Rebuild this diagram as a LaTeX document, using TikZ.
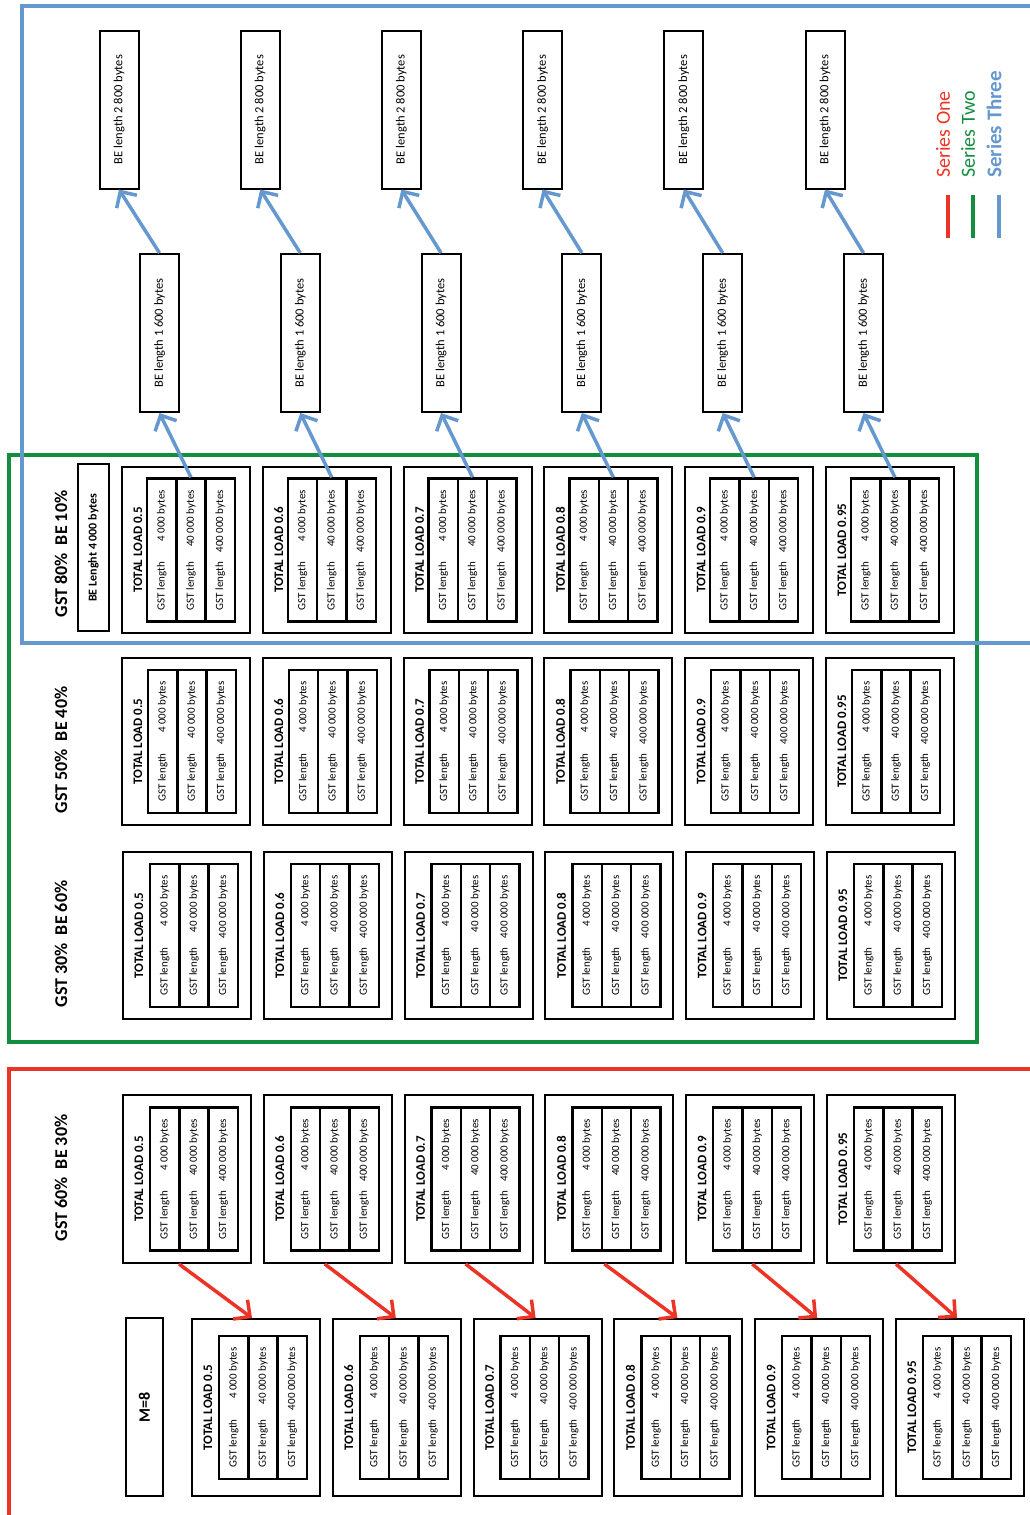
\documentclass[tikz,border=0pt]{standalone}
\usepackage{fontspec}
\setmainfont{Carlito}
\usetikzlibrary{arrows.meta,positioning,calc}
\definecolor{seriesred}{RGB}{236,52,38}
\definecolor{seriesgreen}{RGB}{18,142,62}
\definecolor{seriesblue}{RGB}{100,152,206}

\tikzset{
  outerbox/.style={draw, line width=2pt, fill=white, minimum width=128pt, inner sep=0pt},
  gstcol/.style={draw, line width=2.4pt, rotate=90, minimum width=143pt, minimum height=29.3pt,
    inner sep=0pt, font=\fontsize{11}{12}\selectfont},
  loadtitle/.style={rotate=90, inner sep=0pt, font=\fontsize{13}{15}\selectfont\bfseries},
  bebox/.style={draw, line width=2pt, rotate=90, minimum width=158pt, minimum height=39pt,
    inner sep=0pt, font=\fontsize{12.5}{14}\selectfont},
  rowlabel/.style={rotate=90, inner sep=0pt, font=\fontsize{18}{20}\selectfont\bfseries},
  legendtext/.style={rotate=90, anchor=west, inner sep=0pt, font=\fontsize{20}{22}\selectfont},
  seriesframe/.style={line width=3.5pt},
  bluearrow/.style={seriesblue, line width=3.5pt, -{Straight Barb[length=12pt,width=24pt]}},
  redarrow/.style={seriesred, line width=3.5pt, -{Straight Barb[length=12pt,width=24pt]}},
}

\begin{document}
\begin{tikzpicture}[x=1pt, y=-1pt]
  \useasboundingbox (0,0) rectangle (1030,1515);

  %--- Series frames ---
  \draw[seriesgreen, seriesframe] (9,455) rectangle (977,1042);
  \draw[seriesblue, seriesframe] (22,6) rectangle (1045,643);
  \draw[seriesred, seriesframe] (9,1069) rectangle (1045,1530);

  %--- Legend ---
  \node[legendtext, text=seriesred] (s1) at (943,178) {Series One};
  \node[legendtext, text=seriesgreen] (s2) at (968,178) {Series Two};
  \node[legendtext, text=seriesblue, font=\fontsize{21}{22}\selectfont\bfseries] (s3) at (994,178) {Series Three};
  \draw[seriesred, line width=3.5pt] (948,195) -- (948,238);
  \draw[seriesgreen, line width=3.5pt] (973,195) -- (973,238);
  \draw[seriesblue, line width=3.5pt] (999,195) -- (999,238);

  %--- Row labels ---
  \node[rowlabel] (lab80) at (61,554) {GST 80\%\ \ BE 10\%};
  \node[rowlabel] (lab50) at (61,750) {GST 50\%\ \ BE 40\%};
  \node[rowlabel] (lab30) at (61,944) {GST 30\%\ \ BE 60\%};
  \node[rowlabel] (lab60) at (61,1178) {GST 60\%\ \ BE 30\%};
  \node[draw, line width=2pt, rotate=90, minimum width=167pt, minimum height=31pt,
    font=\fontsize{12}{14}\selectfont\bfseries] (belen) at (93.5,547.5) {BE Lenght 4 000 bytes};
  \node[draw, line width=2pt, rotate=90, minimum width=178pt, minimum height=37pt,
    font=\fontsize{16}{18}\selectfont\bfseries] (m8) at (144.5,1407) {M=8};

  %--- Load boxes: row / first centre x / centre y / height / column offset ---
  \foreach \r/\xa/\yc/\h/\co in {a/186/550/166/26, b/186/741.5/167/27, c/187/935.5/167/28,
      d/187/1179/168/28, e/256/1407.5/177/28} {
    \foreach \ld [count=\i from 0] in {0.5,0.6,0.7,0.8,0.9,0.95} {
      \node[outerbox, minimum height=\h pt] (\r\i) at ({\xa+140.8*\i},\yc) {};
      \node[loadtitle] (\r\i-t) at ([xshift=17pt]\r\i.west) {TOTAL LOAD \ld};
      \node[gstcol] (\r\i-c1) at ([xshift={\co+14.65}]\r\i.west) {\makebox[120pt]{GST length\hfill 4 000 bytes}};
      \node[gstcol] (\r\i-c2) at ([xshift={\co+43.95}]\r\i.west) {\makebox[120pt]{GST length\hfill 40 000 bytes}};
      \node[gstcol] (\r\i-c3) at ([xshift={\co+73.25}]\r\i.west) {\makebox[120pt]{GST length\hfill 400 000 bytes}};
    }
  }

  %--- BE boxes and blue arrows ---
  \foreach \i in {0,...,5} {
    \node[bebox] (mid\i) at ({159.5+140.8*\i},333) {BE length 1 600 bytes};
    \node[bebox] (top\i) at ({119+141.2*\i},109.5) {BE length 2 800 bytes};
    \draw[bluearrow] (a\i-c2.east) -- (mid\i.west);
    \draw[bluearrow] (mid\i.east) -- (top\i.west);
  }

  %--- Red arrows: tail offset / head offset ---
  \foreach \i/\dt/\dh in {0/57/61, 1/62/64, 2/62/63, 3/60/64, 4/67/63, 5/70/62} {
    \draw[redarrow] ([xshift=\dt pt]d\i.south west) -- ([xshift=\dh pt]e\i.north west);
  }

\end{tikzpicture}
\end{document}
